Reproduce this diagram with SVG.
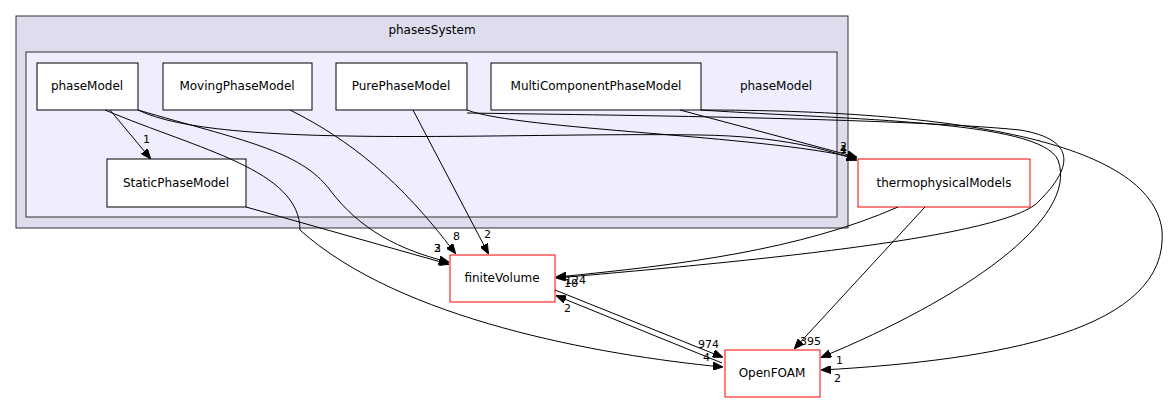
<svg xmlns="http://www.w3.org/2000/svg" width="1173" height="404" viewBox="0 0 1173 404">
<style>
text{font-family:"DejaVu Sans",sans-serif;font-size:12px;fill:#000}
.n{fill:#fff;stroke:#000;stroke-width:1}
.r{fill:#fff;stroke:#ff0000;stroke-width:1}
.e{fill:none;stroke:#000;stroke-width:1}
.l{font-size:11px}
</style>
<defs><marker id="a" markerWidth="10" markerHeight="8" refX="9" refY="4" orient="auto" markerUnits="userSpaceOnUse"><path d="M0,0 L10,4 L0,8 z" fill="#000" stroke="#000"/></marker></defs>
<g id="cluster-phasesSystem"><rect x="16" y="16" width="832" height="212" fill="#ddddee" stroke="#333"/><text x="432" y="34" text-anchor="middle">phasesSystem</text></g>
<g id="cluster-phaseModel"><rect x="26" y="52" width="811" height="165" fill="#eeeeff" stroke="#333"/><text x="776" y="90" text-anchor="middle">phaseModel</text></g>
<g id="phaseModel"><rect class="n" x="37" y="63" width="101" height="47"/><text x="87" y="90" text-anchor="middle">phaseModel</text></g>
<g id="MovingPhaseModel"><rect class="n" x="163" y="63" width="149" height="47"/><text x="237" y="90" text-anchor="middle">MovingPhaseModel</text></g>
<g id="PurePhaseModel"><rect class="n" x="336" y="63" width="131" height="47"/><text x="401" y="90" text-anchor="middle">PurePhaseModel</text></g>
<g id="MultiComponentPhaseModel"><rect class="n" x="491" y="63" width="210" height="47"/><text x="596" y="90" text-anchor="middle">MultiComponentPhaseModel</text></g>
<g id="StaticPhaseModel"><rect class="n" x="107" y="159" width="139" height="48"/><text x="176" y="187" text-anchor="middle">StaticPhaseModel</text></g>
<g id="thermophysicalModels"><rect class="r" x="858" y="159" width="172" height="48"/><text x="944" y="187" text-anchor="middle">thermophysicalModels</text></g>
<g id="finiteVolume"><rect class="r" x="450" y="255" width="105" height="47"/><text x="502" y="282" text-anchor="middle">finiteVolume</text></g>
<g id="OpenFOAM"><rect class="r" x="725" y="350" width="95" height="47"/><text x="772" y="377" text-anchor="middle">OpenFOAM</text></g>
<g id="edges">
<path class="e" marker-end="url(#a)" d="M110,110 L150,158"/><text class="l" x="143" y="143">1</text>
<path class="e" marker-end="url(#a)" d="M138,110 C240,140 300,150 330,190 C360,230 400,250 448,262"/>
<path class="e" marker-end="url(#a)" d="M246,207 L448,264"/><text class="l" x="434" y="252">3</text><text class="l" x="434" y="252">2</text>
<path class="e" marker-end="url(#a)" d="M105,110 C200,150 300,170 300,230 C400,320 600,355 722,367"/><text class="l" x="703" y="361">4</text>
<path class="e" marker-end="url(#a)" d="M138,110 C220,150 500,132 700,135 C780,136 830,150 856,160"/><text class="l" x="840" y="153">4</text>
<path class="e" marker-end="url(#a)" d="M290,110 C350,140 400,180 455,253"/><text class="l" x="453" y="240">8</text>
<path class="e" marker-end="url(#a)" d="M413,110 L488,253"/><text class="l" x="484" y="238">2</text>
<path class="e" marker-end="url(#a)" d="M467,110 C520,130 760,135 856,158"/><text class="l" x="840" y="153">1</text>
<path class="e" marker-end="url(#a)" d="M680,110 L856,157"/><text class="l" x="840" y="150">2</text>
<path class="e" marker-end="url(#a)" d="M467,113 C600,115 900,118 1020,130 C1080,140 1070,170 1040,200 C1010,240 700,265 557,278"/><text class="l" x="565" y="284">124</text><text class="l" x="564" y="287">10</text>
<path class="e" marker-end="url(#a)" d="M701,110 C850,120 1040,120 1058,160 C1080,220 960,300 822,357"/><text class="l" x="836" y="364">1</text>
<path class="e" marker-end="url(#a)" d="M701,110 C950,110 1150,140 1162,230 C1170,330 1000,360 822,370"/><text class="l" x="834" y="382">2</text>
<path class="e" marker-end="url(#a)" d="M898,207 C800,250 680,265 557,277"/>
<path class="e" marker-end="url(#a)" d="M925,207 L795,348"/><text class="l" x="800" y="345">395</text>
<path class="e" marker-end="url(#a)" d="M555,290 L722,357"/><text class="l" x="698" y="348">974</text>
<path class="e" marker-end="url(#a)" d="M722,363 L557,296"/><text class="l" x="564" y="312">2</text>
</g>
</svg>
